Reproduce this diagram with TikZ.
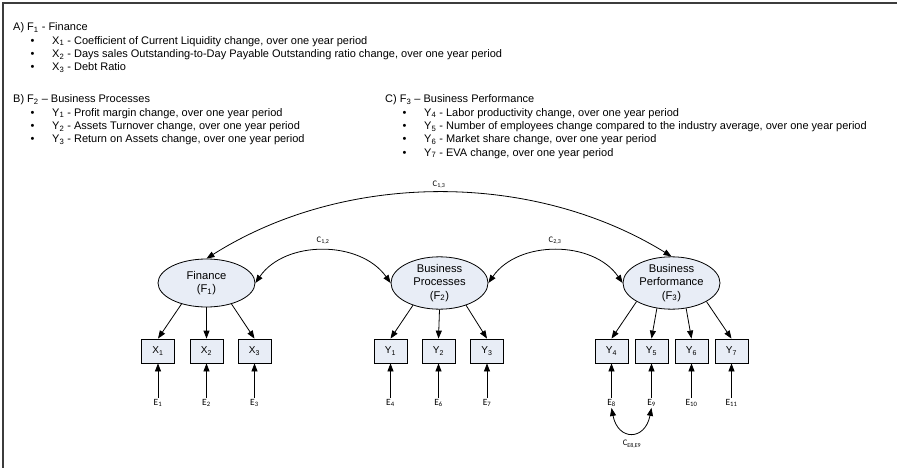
\documentclass[tikz,border=0pt]{standalone}
\usepackage{fontspec}
\setmainfont{Liberation Sans}
\newfontfamily\calib{Carlito}
\usetikzlibrary{arrows.meta,shapes.geometric}
\definecolor{nodefill}{RGB}{232,237,246}
\definecolor{framegray}{RGB}{60,60,60}
\newcommand\sbs[1]{\textsubscript{#1}}
\begin{document}
\begin{tikzpicture}[x=1pt,y=-1pt,
  txt/.style={anchor=base west,inner sep=0,font=\fontsize{11}{13}\selectfont},
  latent/.style={ellipse,draw,fill=nodefill,minimum width=97,minimum height=48,inner sep=0,align=center,font=\fontsize{11.2}{13.3}\selectfont,line width=0.8},
  obs/.style={rectangle,draw,fill=nodefill,minimum width=33,minimum height=24,inner sep=0,font=\fontsize{10}{12}\selectfont,line width=0.8},
  errl/.style={inner sep=1,font=\calib\fontsize{9.5}{11}\selectfont},
  clab/.style={inner sep=0,font=\calib\fontsize{8.5}{10}\selectfont},
  arr/.style={-{Triangle[length=8,width=6]},line width=0.8},
  darr/.style={{Triangle[length=8,width=6]}-{Triangle[length=8,width=6]},line width=0.8}
]
\useasboundingbox (0,0) rectangle (897,468);
\draw[framegray,line width=2] (3,468) -- (3,3) -- (897,3);

% list A
\node[txt] (ah) at (13,31) {A) F\sbs{1} - Finance};
\node[txt] (ab1) at (30.5,44.3) {\textbullet};
\node[txt] (at1) at (52,44.3) {X\sbs{1} - Coefficient of Current Liquidity change, over one year period};
\node[txt] (ab2) at (30.5,57.6) {\textbullet};
\node[txt] (at2) at (52,57.6) {X\sbs{2} - Days sales Outstanding-to-Day Payable Outstanding ratio change, over one year period};
\node[txt] (ab3) at (30.5,70.9) {\textbullet};
\node[txt] (at3) at (52,70.9) {X\sbs{3} - Debt Ratio};
% list B
\node[txt] (bh) at (13,103) {B) F\sbs{2} -- Business Processes};
\node[txt] (bb1) at (30.5,116.3) {\textbullet};
\node[txt] (bt1) at (52,116.3) {Y\sbs{1} - Profit margin change, over one year period};
\node[txt] (bb2) at (30.5,129.6) {\textbullet};
\node[txt] (bt2) at (52,129.6) {Y\sbs{2} - Assets Turnover change, over one year period};
\node[txt] (bb3) at (30.5,142.9) {\textbullet};
\node[txt] (bt3) at (52,142.9) {Y\sbs{3} - Return on Assets change, over one year period};
% list C
\node[txt] (ch) at (385,103) {C) F\sbs{3} -- Business Performance};
\node[txt] (cb1) at (402.5,116.3) {\textbullet};
\node[txt] (ct1) at (424,116.3) {Y\sbs{4} - Labor productivity change, over one year period};
\node[txt] (cb2) at (402.5,129.6) {\textbullet};
\node[txt] (ct2) at (424,129.6) {Y\sbs{5} - Number of employees change compared to the industry average, over one year period};
\node[txt] (cb3) at (402.5,142.9) {\textbullet};
\node[txt] (ct3) at (424,142.9) {Y\sbs{6} - Market share change, over one year period};
\node[txt] (cb4) at (402.5,156.2) {\textbullet};
\node[txt] (ct4) at (424,156.2) {Y\sbs{7} - EVA change, over one year period};

% latent factors
\node[latent] (F1) at (206.5,283) {Finance\\(F\sbs{1})};
\node[latent] (F2) at (439.5,283) {Business\\Processes\\(F\sbs{2})};
\node[latent] (F3) at (671.5,283) {Business\\Performance\\(F\sbs{3})};

% observed
\node[obs] (X1) at (158,351) {X\sbs{1}};
\node[obs] (X2) at (206.5,351) {X\sbs{2}};
\node[obs] (X3) at (254.5,351) {X\sbs{3}};
\node[obs] (Y1) at (390.5,351) {Y\sbs{1}};
\node[obs] (Y2) at (438.5,351) {Y\sbs{2}};
\node[obs] (Y3) at (487,351) {Y\sbs{3}};
\node[obs] (Y4) at (611.5,351) {Y\sbs{4}};
\node[obs] (Y5) at (651.5,351) {Y\sbs{5}};
\node[obs] (Y6) at (691.5,351) {Y\sbs{6}};
\node[obs] (Y7) at (731.5,351) {Y\sbs{7}};

% errors
\node[errl] (E1) at (158,403) {E\sbs{1}};
\node[errl] (E2) at (206.5,403) {E\sbs{2}};
\node[errl] (E3) at (254.5,403) {E\sbs{3}};
\node[errl] (E4) at (390.5,403) {E\sbs{4}};
\node[errl] (E6) at (438.5,403) {E\sbs{6}};
\node[errl] (E7) at (487,403) {E\sbs{7}};
\node[errl] (E8) at (611.5,403) {E\sbs{8}};
\node[errl] (E9) at (651.5,403) {E\sbs{9}};
\node[errl] (E10) at (691.5,403) {E\sbs{10}};
\node[errl] (E11) at (731.5,403) {E\sbs{11}};

% loadings
\draw[arr] (F1.-140) -- (X1.north);
\draw[arr] (F1.south) -- (X2.north);
\draw[arr] (F1.-40) -- (X3.north);
\draw[arr] (F2.-140) -- (Y1.north);
\draw[arr] (F2.south) -- (Y2.north);
\draw[arr] (F2.-40) -- (Y3.north);
\draw[arr] (F3.-152) -- (Y4.north);
\draw[arr] (F3.-120) -- (Y5.north);
\draw[arr] (F3.-60) -- (Y6.north);
\draw[arr] (F3.-28) -- (Y7.north);

% error arrows
\foreach \e/\o in {E1/X1,E2/X2,E3/X3,E4/Y1,E6/Y2,E7/Y3,E8/Y4,E9/Y5,E10/Y6,E11/Y7}
  \draw[arr] (\e.north) -- (\o.south);

% covariances
\draw[darr] (F1.east) .. controls (285,240) and (360,240) .. (F2.west);
\draw[darr] (F2.east) .. controls (518,240) and (593,240) .. (F3.west);
\draw[darr] (F1.north) .. controls (345,171) and (533,171) .. (F3.north);
\draw[darr] (E8.south) .. controls (618,441) and (645,441) .. (E9.south);

\node[clab] (c13) at (439,185) {C\sbs{1,3}};
\node[clab] (c12) at (323,241) {C\sbs{1,2}};
\node[clab] (c23) at (555,241) {C\sbs{2,3}};
\node[clab] (ce) at (632,444) {C\sbs{E8,E9}};
\end{tikzpicture}
\end{document}
